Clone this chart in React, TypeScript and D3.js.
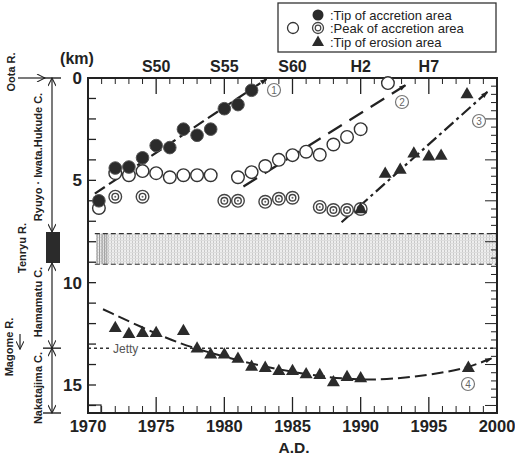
import React from 'react';
import * as d3 from 'd3';

// tip of accretion area (filled circles)
const accTipYear = [1970.8, 1972, 1973, 1974, 1975, 1976, 1977, 1978, 1979, 1980, 1981, 1982];
const accTipKm = [6.0, 4.4, 4.35, 3.9, 3.3, 3.4, 2.5, 2.8, 2.5, 1.5, 1.3, 0.6];

// peak of accretion area (open circles)
const peakOpenYear = [1970.8, 1972, 1973, 1974, 1975, 1976, 1977, 1978, 1979, 1981, 1982, 1983, 1984, 1985, 1986, 1987, 1988, 1989, 1990, 1992];
const peakOpenKm = [6.35, 4.65, 4.75, 4.55, 4.65, 4.85, 4.75, 4.75, 4.75, 4.85, 4.6, 4.3, 4.0, 3.77, 3.6, 3.75, 3.25, 2.88, 2.5, 0.25];

// peak of accretion area (double circles)
const peakDblYear = [1972, 1974, 1980, 1981, 1983, 1984, 1985, 1987, 1988, 1989, 1990];
const peakDblKm = [5.8, 5.8, 6.0, 6.0, 6.05, 5.9, 5.85, 6.3, 6.45, 6.45, 6.4];

// tip of erosion area (triangles)
const erosionYear = [1990, 1991.8, 1992.9, 1993.9, 1995, 1995.9, 1997.8,
  1972, 1973, 1974, 1975, 1977, 1978, 1979, 1980, 1981, 1982, 1983, 1984, 1985, 1986, 1987, 1988, 1989, 1990, 1997.9];
const erosionKm = [6.4, 4.67, 4.47, 3.67, 3.82, 3.78, 0.78,
  12.2, 12.5, 12.45, 12.45, 12.35, 13.2, 13.5, 13.5, 13.7, 14.1, 14.15, 14.3, 14.3, 14.46, 14.5, 14.85, 14.6, 14.66, 14.15];

// trend lines ① ② ③ and curve ④
const trend1: [number, number][] = [[1970.5, 5.65], [1983.1, 0.05]];
const trend2: [number, number][] = [[1981.4, 5.3], [1993.3, 0.35]];
const trend3: [number, number][] = [[1988.6, 7.05], [1999.3, 0.68]];
const curve4: [number, number][] = [[1971.1, 11.3], [1975.3, 12.6], [1977.7, 13.2], [1981.9, 13.97], [1986, 14.5], [1990, 14.8], [1993.4, 14.65], [1996, 14.4], [1997.8, 14.17], [1999.6, 13.7]];

const jettyKm = 13.2;
const bandKm = [7.6, 9.1];

const bottomTicks = [1970, 1975, 1980, 1985, 1990, 1995, 2000];
const topTicks = [1975, 1980, 1985, 1990, 1995];
const topLabels = ['S50', 'S55', 'S60', 'H2', 'H7'];
const leftTicks = [0, 5, 10, 15];

const legendItems = [':Tip of accretion area', ':Peak of accretion area', ':Tip of erosion area'];

const W = 515, H = 459;
const x = d3.scaleLinear().domain([1970, 2000]).range([88, 497]);
const y = d3.scaleLinear().domain([0, 15]).range([78, 385]);
const yBottom = 413;
const kmMax = y.invert(yBottom);

const ink = '#222';
const font = 'Arial, "Liberation Sans", sans-serif';

const line = d3.line<[number, number]>().x(d => x(d[0])).y(d => y(d[1]));
const curveLine = d3.line<[number, number]>().x(d => x(d[0])).y(d => y(d[1])).curve(d3.curveBasis);

const tri = (cx: number, cy: number, s = 13) => {
  const h = s * 0.866;
  return `M${cx},${cy - h * 0.62}L${cx + s / 2},${cy + h * 0.38}L${cx - s / 2},${cy + h * 0.38}Z`;
};

const NumLabel = ({ cx, cy, n }: { cx: number; cy: number; n: string }) => (
  <g>
    <circle cx={cx} cy={cy} r={6.5} fill="white" stroke="#777" strokeWidth={1.2} />
    <text x={cx} y={cy + 3.5} textAnchor="middle" fontSize={10} fill="#666" fontFamily={font}>{n}</text>
  </g>
);

const DblCircle = ({ cx, cy }: { cx: number; cy: number }) => (
  <g>
    <circle cx={cx} cy={cy} r={6.3} fill="white" stroke="#444" strokeWidth={1.4} />
    <circle cx={cx} cy={cy} r={3.3} fill="none" stroke="#444" strokeWidth={1.4} />
    <circle cx={cx} cy={cy} r={1} fill="#666" />
  </g>
);

const VArrow = ({ x0, y0, y1 }: { x0: number; y0: number; y1: number }) => (
  <line x1={x0} y1={y0} x2={x0} y2={y1} stroke={ink} strokeWidth={1.2}
    markerStart="url(#openHead)" markerEnd="url(#openHead)" />
);

export default function App() {
  const plotL = x(1970), plotR = x(2000), plotT = y(0);
  const minorYears = d3.range(1971, 2000).filter(v => v % 5 !== 0);
  const rightTicks = d3.range(0.4, kmMax, 0.4);

  return (
    <svg width={W} height={H} style={{ position: 'absolute', left: 0, top: 0, background: 'white' }} fontFamily={font}>
      <defs>
        <marker id="head" viewBox="0 0 10 10" refX={9} refY={5} markerWidth={9} markerHeight={7} orient="auto" markerUnits="userSpaceOnUse">
          <path d="M0,1.5L10,5L0,8.5Z" fill={ink} />
        </marker>
        <marker id="openHead" viewBox="0 0 10 10" refX={10} refY={5} markerWidth={10} markerHeight={8} orient="auto-start-reverse" markerUnits="userSpaceOnUse">
          <path d="M0,0L10,5L0,10" fill="none" stroke={ink} strokeWidth={1.3} />
        </marker>
        <pattern id="dots" width={3} height={3} patternUnits="userSpaceOnUse">
          <rect width={3} height={3} fill="#eeeeee" />
          <rect width={1} height={3} fill="#c8c8c8" />
          <rect width={3} height={1} fill="#dddddd" />
        </pattern>
      </defs>

      {/* shaded band (Tenryu R.) */}
      <rect x={x(1970.6)} y={y(bandKm[0])} width={plotR - x(1970.6)} height={y(bandKm[1]) - y(bandKm[0])} fill="url(#dots)" />
      {d3.range(0, 5).map(i => (
        <line key={i} x1={x(1970.6) + 1 + i * 2.4} x2={x(1970.6) + 1 + i * 2.4} y1={y(bandKm[0])} y2={y(bandKm[1])} stroke="#888" strokeWidth={0.8} />
      ))}
      {bandKm.map(k => (
        <line key={k} x1={x(1970.5)} x2={plotR} y1={y(k)} y2={y(k)} stroke="#333" strokeWidth={1.2} strokeDasharray="5,3" />
      ))}

      {/* jetty */}
      <line x1={plotL} x2={plotR} y1={y(jettyKm)} y2={y(jettyKm)} stroke="#333" strokeWidth={1.5} strokeDasharray="3,3" />
      <rect x={111} y={y(jettyKm) - 5} width={30} height={10} fill="white" />
      <text x={113} y={y(jettyKm) + 4.5} fontSize={12} fill="#555">Jetty</text>

      {/* axes frame */}
      <rect x={plotL} y={plotT} width={plotR - plotL} height={yBottom - plotT} fill="none" stroke={ink} strokeWidth={2} />
      <rect x={plotL} y={yBottom - 8} width={13} height={8} fill="none" stroke={ink} strokeWidth={1.2} />

      {/* bottom and top ticks */}
      {bottomTicks.map(t => (
        <g key={t}>
          <line x1={x(t)} x2={x(t)} y1={yBottom} y2={yBottom - 16} stroke={ink} strokeWidth={1.3} />
          <text x={x(t)} y={432} textAnchor="middle" fontSize={16.5} fontWeight="bold" fill={ink}>{t}</text>
        </g>
      ))}
      {minorYears.map(t => (
        <g key={t}>
          <line x1={x(t)} x2={x(t)} y1={yBottom} y2={yBottom - 7} stroke={ink} strokeWidth={1} />
          <line x1={x(t)} x2={x(t)} y1={plotT} y2={plotT + 6} stroke={ink} strokeWidth={1} />
        </g>
      ))}
      {topTicks.map((t, i) => (
        <g key={t}>
          <line x1={x(t)} x2={x(t)} y1={plotT} y2={plotT + 16} stroke={ink} strokeWidth={1.3} />
          <text x={x(t)} y={72} textAnchor="middle" fontSize={16} fontWeight="bold" fill={ink}>{topLabels[i]}</text>
        </g>
      ))}
      <text x={294} y={453} textAnchor="middle" fontSize={15.5} fontWeight="bold" fill={ink}>A.D.</text>

      {/* left ticks */}
      {d3.range(0, Math.floor(kmMax) + 1).map(k => (
        <line key={k} x1={plotL} x2={plotL + 8} y1={y(k)} y2={y(k)} stroke={ink} strokeWidth={1.3} />
      ))}
      {leftTicks.map(k => (
        <text key={k} x={82} y={y(k) + 6} textAnchor="end" fontSize={17} fontWeight="bold" fill={ink}>{k}</text>
      ))}
      <text x={77} y={64} textAnchor="middle" fontSize={16} fontWeight="bold" fill={ink}>(km)</text>

      {/* right ruler ticks */}
      {rightTicks.map((k, i) => (
        <line key={i} x1={plotR} x2={plotR - (i % 5 === 4 ? 12 : 6)} y1={y(k)} y2={y(k)} stroke={ink} strokeWidth={1} />
      ))}

      {/* trend lines */}
      <path d={line(trend1)!} fill="none" stroke={ink} strokeWidth={2.2} strokeDasharray="12,5" markerEnd="url(#head)" />
      <path d={line(trend2)!} fill="none" stroke={ink} strokeWidth={2.2} strokeDasharray="16,9" markerEnd="url(#head)" />
      <path d={line(trend3)!} fill="none" stroke={ink} strokeWidth={2.2} strokeDasharray="12,4,3,4" markerEnd="url(#head)" />
      <path d={curveLine(curve4)!} fill="none" stroke={ink} strokeWidth={2} strokeDasharray="12,5" markerEnd="url(#head)" />

      {/* markers */}
      {peakOpenYear.map((yr, i) => (
        <circle key={'o' + i} cx={x(yr)} cy={y(peakOpenKm[i])} r={6.3} fill="white" stroke="#333" strokeWidth={1.4} />
      ))}
      {peakDblYear.map((yr, i) => (
        <DblCircle key={'d' + i} cx={x(yr)} cy={y(peakDblKm[i])} />
      ))}
      {accTipYear.map((yr, i) => (
        <circle key={'f' + i} cx={x(yr)} cy={y(accTipKm[i])} r={6.3} fill="#2b2b2b" stroke="#555" strokeWidth={1} />
      ))}
      {erosionYear.map((yr, i) => (
        <path key={'t' + i} d={tri(x(yr), y(erosionKm[i]))} fill="#2b2b2b" />
      ))}

      <NumLabel cx={274} cy={90} n="1" />
      <NumLabel cx={402} cy={102} n="2" />
      <NumLabel cx={479} cy={121} n="3" />
      <NumLabel cx={468} cy={384} n="4" />

      {/* legend */}
      <rect x={278} y={3} width={218} height={49} fill="white" stroke="#333" strokeWidth={1.3} />
      <circle cx={318} cy={15} r={5.5} fill="#2b2b2b" />
      <circle cx={293} cy={28} r={5.5} fill="white" stroke="#333" strokeWidth={1.3} />
      <circle cx={318} cy={28} r={5.5} fill="white" stroke="#444" strokeWidth={1.3} />
      <circle cx={318} cy={28} r={2.8} fill="none" stroke="#444" strokeWidth={1.2} />
      <path d={tri(318, 42, 12)} fill="#2b2b2b" />
      {legendItems.map((t, i) => (
        <text key={t} x={330} y={19.5 + i * 13.5} fontSize={13} fill={ink}>{t}</text>
      ))}

      {/* left side coastal annotations */}
      <line x1={18} x2={45} y1={plotT} y2={plotT} stroke={ink} strokeWidth={1.2} markerEnd="url(#openHead)" />
      <line x1={43} x2={61} y1={plotT} y2={plotT} stroke={ink} strokeWidth={1.4} />
      <VArrow x0={52} y0={plotT} y1={232} />
      <rect x={46} y={232} width={14} height={31} fill="#2b2b2b" />
      <VArrow x0={52} y0={263} y1={y(jettyKm)} />
      <line x1={43} x2={61} y1={y(jettyKm)} y2={y(jettyKm)} stroke={ink} strokeWidth={1.4} />
      <VArrow x0={52} y0={y(jettyKm)} y1={yBottom} />
      <line x1={43} x2={61} y1={yBottom} y2={yBottom} stroke={ink} strokeWidth={1.4} />
      <line x1={20} x2={20} y1={334} y2={y(jettyKm) + 1} stroke={ink} strokeWidth={1.2} markerEnd="url(#openHead)" />

      {[
        { t: 'Oota R.', cx: 15, cy: 72 },
        { t: 'Ryuyo · Iwata.Hukude C.', cx: 42, cy: 157 },
        { t: 'Tenryu R.', cx: 26, cy: 248 },
        { t: 'Hamamatu C.', cx: 42, cy: 302 },
        { t: 'Magome R.', cx: 13, cy: 347 },
        { t: 'Nakatajima C.', cx: 42, cy: 388 },
      ].map(d => (
        <text key={d.t} transform={`translate(${d.cx},${d.cy}) rotate(-90)`} textAnchor="middle" fontSize={11} fontWeight="bold" fill={ink}>{d.t}</text>
      ))}
    </svg>
  );
}
